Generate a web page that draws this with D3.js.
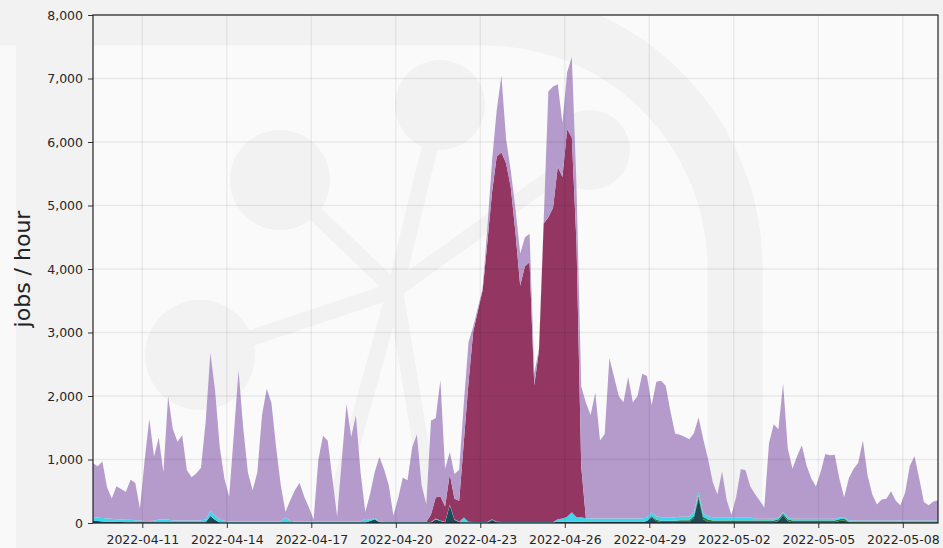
<!DOCTYPE html>
<html>
<head>
<meta charset="utf-8">
<script src="https://cdn.jsdelivr.net/npm/d3@7"></script>
<style>
  body { margin: 0; background: #f9f9f9; }
  svg { display: block; font-family: "DejaVu Sans", sans-serif; }
</style>
</head>
<body>
<svg id="chart"></svg>
<script>
// 4-hourly bins, starting 2022-04-09 06:00 UTC
var startTime = '2022-04-09T06:00:00Z';
var stepHours = 4;

var tickLabels = ['2022-04-11', '2022-04-14', '2022-04-17', '2022-04-20', '2022-04-23',
    '2022-04-26', '2022-04-29', '2022-05-02', '2022-05-05', '2022-05-08'];
var yTicks = [0, 1000, 2000, 3000, 4000, 5000, 6000, 7000, 8000];

var teal = [30,30,25,20,20,15,15,10,10,10,
    10,10,10,10,10,10,10,10,10,10,
    10,10,10,10,10,110,50,5,5,5,
    5,5,5,5,5,5,5,5,5,5,
    5,5,5,5,5,5,5,5,5,5,
    5,5,5,5,5,5,5,5,5,30,
    60,10,5,5,5,5,5,5,5,5,
    5,5,5,60,30,10,280,50,10,5,
    5,5,5,5,5,50,10,5,5,5,
    5,5,5,5,5,5,5,5,5,20,
    20,20,20,20,20,15,15,15,15,15,
    15,15,15,15,15,15,15,15,30,90,
    30,15,15,15,15,15,15,15,80,390,
    60,15,10,10,10,10,10,10,10,10,
    10,10,10,10,10,10,30,120,30,10,
    10,10,10,10,10,10,10,10,10,30,
    40,10,5,5,5,5,5,5,5,5,
    5,5,5,5,5,5,5,5,5,5,
    5];

var green = [0,0,0,0,0,0,0,0,0,0,
    0,0,0,0,0,0,0,0,0,0,
    0,0,0,0,0,0,0,0,0,0,
    0,0,0,0,0,0,0,0,0,0,
    0,0,0,0,0,0,0,0,0,0,
    0,0,0,0,0,0,0,0,0,0,
    0,0,0,0,0,0,0,0,0,0,
    0,0,0,0,0,0,0,0,0,0,
    0,0,0,0,0,0,0,0,0,0,
    0,0,0,0,0,0,0,0,0,0,
    0,0,0,0,0,0,0,0,0,0,
    0,0,0,0,0,0,0,0,0,20,
    20,20,20,20,20,30,30,30,30,40,
    40,40,30,30,30,30,30,30,30,30,
    30,30,30,30,30,30,30,30,30,30,
    30,30,30,30,30,30,30,30,30,30,
    30,10,10,10,10,10,10,10,10,10,
    10,10,10,10,10,10,10,10,10,10,
    10];

var cyan = [50,55,55,50,45,45,40,40,40,35,
    30,20,20,25,45,50,45,30,30,30,
    30,30,30,30,45,80,70,50,30,20,
    20,20,20,20,20,20,20,20,20,20,
    20,80,30,20,20,20,20,20,20,20,
    20,20,20,20,20,20,20,20,60,20,
    20,10,10,10,10,10,10,10,10,10,
    10,10,10,10,10,10,10,10,10,80,
    15,10,10,10,10,10,10,10,10,10,
    10,10,10,10,10,10,10,10,10,40,
    50,80,150,70,70,60,55,55,55,55,
    55,55,55,55,55,55,55,55,55,55,
    55,55,55,55,55,55,55,55,55,60,
    50,50,50,50,50,50,50,50,50,50,
    50,25,25,25,25,25,25,25,25,25,
    25,25,25,25,25,25,25,25,25,25,
    25,25,25,25,25,25,25,25,25,25,
    25,25,25,25,25,25,25,25,25,25,
    25];

var maroon = [0,0,0,0,0,0,0,0,0,0,
    0,0,0,0,0,0,0,0,0,0,
    0,0,0,0,0,0,0,0,0,0,
    0,0,0,0,0,0,0,0,0,0,
    0,0,0,0,0,0,0,0,0,0,
    0,0,0,0,0,0,0,0,0,0,
    0,0,0,0,0,0,0,0,0,0,
    0,0,120,330,380,240,480,320,330,1200,
    2200,3000,3330,3650,4400,5150,5750,5820,5650,5270,
    4550,3720,4030,4090,2150,2700,4700,4800,4950,5550,
    5380,6100,5900,4300,800,0,0,0,0,0,
    0,0,0,0,0,0,0,0,0,0,
    0,0,0,0,0,0,0,0,0,0,
    0,0,0,0,0,0,0,0,0,0,
    0,0,0,0,0,0,0,0,0,0,
    0,0,0,0,0,0,0,0,0,0,
    0,0,0,0,0,0,0,0,0,0,
    0,0,0,0,0,0,0,0,0,0,
    0];

var lavender = [860,810,890,490,320,520,480,440,630,590,
    190,960,1610,1010,1290,740,1940,1440,1240,1340,
    790,680,740,830,1540,2490,1970,1140,660,390,
    1370,2380,1470,770,490,770,1670,2090,1870,1170,
    570,90,320,490,610,390,220,30,970,1350,
    1270,670,80,970,1850,1330,1670,770,110,400,
    720,1020,830,580,100,380,700,660,1180,1380,
    580,280,1480,1250,1830,590,350,390,490,610,
    630,80,50,30,230,490,730,1210,380,260,
    380,510,450,450,190,30,30,1980,1910,1300,
    850,900,1270,910,1260,1820,1630,1980,1230,1330,
    2530,2230,1930,1830,2230,1830,1930,2280,2230,1690,
    2120,2150,2070,1670,1320,1290,1260,1220,1250,1170,
    1170,910,560,360,720,270,40,320,760,740,
    490,390,290,180,1190,1490,1390,2020,1090,790,
    990,1160,840,640,510,740,1020,1000,1010,610,
    310,660,810,910,1260,710,410,250,330,340,
    460,310,240,440,860,1010,660,290,240,300,
    320];

var seriesKeys = ['teal', 'green', 'cyan', 'maroon', 'lavender'];
var seriesColors = {
    teal: '#1d4c58',
    green: '#2f7a3c',
    cyan: '#3fd6ec',
    maroon: '#933762',
    lavender: '#b49bcb'
};

var svgWidth = 943, svgHeight = 548;
var margin = { top: 15, right: 5, bottom: 25, left: 93 };
var width = svgWidth - margin.left - margin.right;
var height = svgHeight - margin.top - margin.bottom;

var t0 = new Date(startTime);
var rows = lavender.map(function (v, i) {
    return {
        date: new Date(t0.getTime() + i * stepHours * 3600 * 1000),
        teal: teal[i], green: green[i], cyan: cyan[i], maroon: maroon[i], lavender: lavender[i]
    };
});

var svg = d3.select('#chart')
    .attr('width', svgWidth)
    .attr('height', svgHeight);

svg.append('rect')
    .attr('x', 16).attr('y', 0)
    .attr('width', svgWidth - 16).attr('height', svgHeight)
    .attr('fill', '#f2f2f2');

var x = d3.scaleUtc()
    .domain([t0, rows[rows.length - 1].date])
    .range([0, width]);

var y = d3.scaleLinear()
    .domain([0, 8000])
    .range([height, 0]);

var g = svg.append('g')
    .attr('transform', 'translate(' + margin.left + ',' + margin.top + ')');

g.append('clipPath').attr('id', 'plotclip')
    .append('rect').attr('width', width).attr('height', height);

g.append('rect')
    .attr('width', width).attr('height', height)
    .attr('fill', '#fafafa');

// faint logo watermark behind the data
var wm = g.append('g')
    .attr('clip-path', 'url(#plotclip)')
    .attr('transform', 'translate(' + (-margin.left) + ',' + (-margin.top) + ')')
    .attr('fill', '#f2f2f2')
    .attr('stroke', '#f2f2f2');

wm.append('path')
    .attr('d', 'M 0,18 H 485 A 250 250 0 0 1 735 268 V 560')
    .attr('fill', 'none')
    .attr('stroke-width', 55);

var hub = [395, 290];
var blobs = [[280, 180, 50], [200, 355, 55], [440, 105, 45], [590, 150, 40]];
var spokeEnds = [[280, 180], [200, 355], [440, 105], [590, 150], [320, 560], [440, 560]];

wm.selectAll('line.spoke')
    .data(spokeEnds)
    .enter()
    .append('line')
    .attr('class', 'spoke')
    .attr('x1', hub[0]).attr('y1', hub[1])
    .attr('x2', function (d) { return d[0]; })
    .attr('y2', function (d) { return d[1]; })
    .attr('stroke-width', 16)
    .attr('stroke-linecap', 'round');

wm.selectAll('circle')
    .data(blobs)
    .enter()
    .append('circle')
    .attr('cx', function (d) { return d[0]; })
    .attr('cy', function (d) { return d[1]; })
    .attr('r', function (d) { return d[2]; })
    .attr('stroke', 'none');

// stacked areas
var stack = d3.stack().keys(seriesKeys);
var layers = stack(rows);

var area = d3.area()
    .x(function (d) { return x(d.data.date); })
    .y0(function (d) { return y(d[0]); })
    .y1(function (d) { return y(d[1]); });

g.append('g')
    .attr('clip-path', 'url(#plotclip)')
    .selectAll('path')
    .data(layers)
    .enter()
    .append('path')
    .attr('d', area)
    .attr('fill', function (d) { return seriesColors[d.key]; });

// grid on top, very light
var tickDates = tickLabels.map(function (s) { return new Date(s + 'T00:00:00Z'); });

g.append('g')
    .selectAll('line')
    .data(tickDates)
    .enter()
    .append('line')
    .attr('x1', function (d) { return x(d); })
    .attr('x2', function (d) { return x(d); })
    .attr('y1', 0).attr('y2', height)
    .attr('stroke', '#000')
    .attr('stroke-opacity', 0.07)
    .attr('stroke-width', 1.3);

g.append('g')
    .selectAll('line')
    .data(yTicks)
    .enter()
    .append('line')
    .attr('x1', 0).attr('x2', width)
    .attr('y1', function (d) { return y(d); })
    .attr('y2', function (d) { return y(d); })
    .attr('stroke', '#000')
    .attr('stroke-opacity', 0.07)
    .attr('stroke-width', 1.3);

// axes
var xAxis = g.append('g')
    .attr('transform', 'translate(0,' + height + ')')
    .call(d3.axisBottom(x)
        .tickValues(tickDates)
        .tickFormat(d3.utcFormat('%Y-%m-%d'))
        .tickSizeInner(5)
        .tickSizeOuter(0));

var yAxis = g.append('g')
    .call(d3.axisLeft(y)
        .tickValues(yTicks)
        .tickFormat(d3.format(','))
        .tickSizeInner(5)
        .tickSizeOuter(0));

[xAxis, yAxis].forEach(function (ax) {
    ax.selectAll('text')
        .attr('fill', '#262626')
        .style('font-size', '12.5px')
        .style('font-family', '"DejaVu Sans", sans-serif');
    ax.selectAll('.tick line').attr('stroke', '#333');
    ax.select('.domain').remove();
});
xAxis.selectAll('text').attr('dy', '1.05em');
yAxis.selectAll('text').attr('x', -10);

// plot frame
g.append('rect')
    .attr('width', width).attr('height', height)
    .attr('fill', 'none')
    .attr('stroke', '#222')
    .attr('stroke-width', 1.2);

svg.append('text')
    .attr('transform', 'translate(30,' + (margin.top + height / 2) + ') rotate(-90)')
    .attr('text-anchor', 'middle')
    .attr('fill', '#222')
    .style('font-size', '22px')
    .text('jobs / hour');
</script>
</body>
</html>
